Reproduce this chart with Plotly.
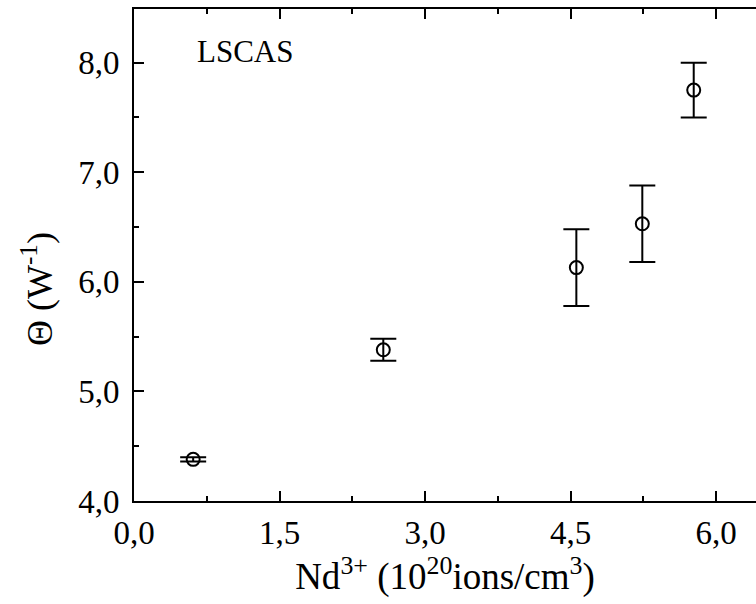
import plotly.graph_objects as go

# Data
nd_conc = [0.61, 2.57, 4.56, 5.24, 5.77]          # Nd3+ (10^20 ions/cm^3)
theta = [4.38, 5.38, 6.13, 6.53, 7.75]            # Θ (W^-1)
theta_err = [0.02, 0.10, 0.35, 0.35, 0.25]

x_ticks = [0.0, 1.5, 3.0, 4.5, 6.0]
y_ticks = [4.0, 5.0, 6.0, 7.0, 8.0]

FONT = "Liberation Serif, Times New Roman, serif"

fig = go.Figure()
fig.add_trace(go.Scatter(
    x=nd_conc, y=theta, mode="markers",
    marker=dict(symbol="circle-open", size=13, color="black", line=dict(width=2, color="black")),
    error_y=dict(type="data", array=theta_err, visible=True, color="black", thickness=2, width=13),
    showlegend=False,
))

fig.add_annotation(text="LSCAS", xref="paper", yref="paper", x=0.098, y=0.913,
                   xanchor="left", yanchor="middle", showarrow=False,
                   font=dict(family=FONT, size=31, color="black"))

fig.add_annotation(text="Θ (W<sup>-1</sup>)", xref="paper", yref="paper", x=-0.155, y=0.43,
                   xanchor="center", yanchor="middle", textangle=-90, showarrow=False,
                   font=dict(family=FONT, size=36, color="black"))

axis_common = dict(showgrid=False, zeroline=False, showline=True, linecolor="black", linewidth=2,
                   ticks="inside", ticklen=10, tickwidth=2, tickcolor="black",
                   tickfont=dict(family=FONT, size=33, color="black"))

fig.update_xaxes(range=[0, 6.412], tickvals=x_ticks, tickformat=".1f", mirror="ticks",
                 minor=dict(dtick=0.75, tick0=0, ticks="inside", ticklen=5, tickwidth=2, tickcolor="black"),
                 title=dict(text="Nd<sup>3+</sup> (10<sup>20</sup>ions/cm<sup>3</sup>)",
                            font=dict(family=FONT, size=37, color="black"), standoff=8),
                 ticklabelstandoff=1,
                 **axis_common)
fig.update_yaxes(range=[4, 8.49], tickvals=y_ticks, tickformat=".1f", mirror=False,
                 minor=dict(dtick=0.5, tick0=4, ticks="inside", ticklen=5, tickwidth=2, tickcolor="black"),
                 ticklabelstandoff=6,
                 **axis_common)

fig.update_layout(width=756, height=604, margin=dict(l=134, r=0, t=9, b=103),
                  plot_bgcolor="white", paper_bgcolor="white", separators=",.")

fig.write_html("out.html")
